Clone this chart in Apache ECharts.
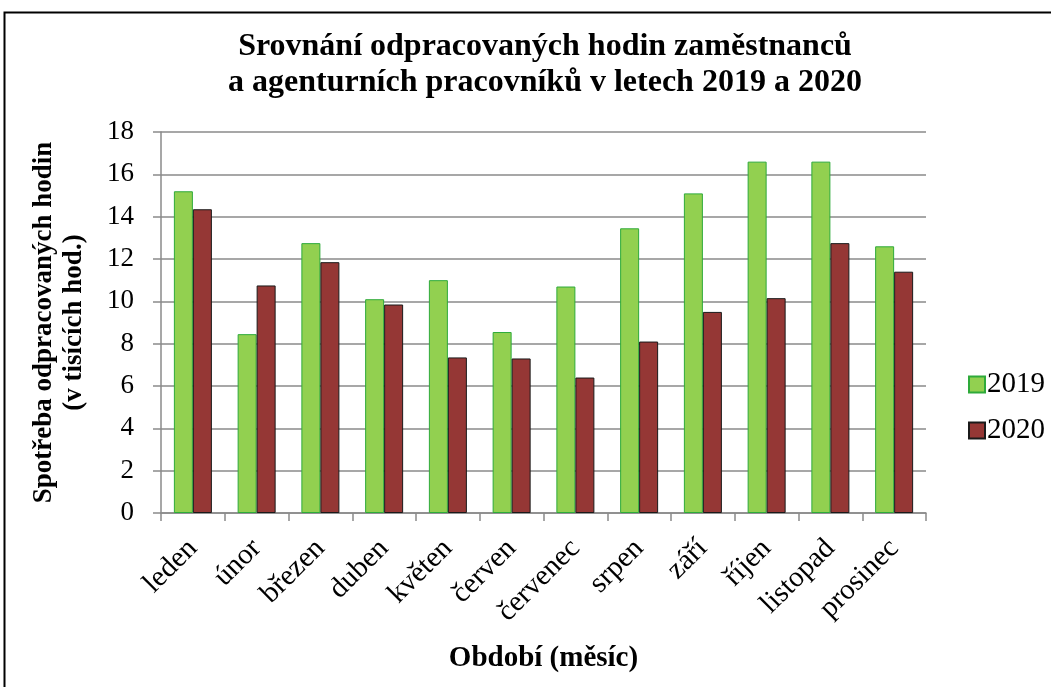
<!DOCTYPE html>
<html>
<head>
<meta charset="utf-8">
<script src="https://cdn.jsdelivr.net/npm/echarts@6/dist/echarts.min.js"></script>
<style>
  html, body { margin: 0; padding: 0; background: #fff; }
  #chart { width: 1051px; height: 687px; }
</style>
</head>
<body>
<div id="chart"></div>
<script>
// data (thousands of hours)
const months = ['leden', 'únor', 'březen', 'duben', 'květen', 'červen', 'červenec', 'srpen', 'září', 'říjen', 'listopad', 'prosinec'];
const hours2019 = [15.2, 8.45, 12.75, 10.1, 11.0, 8.55, 10.7, 13.45, 15.1, 16.6, 16.6, 12.6];
const hours2020 = [14.35, 10.75, 11.85, 9.85, 7.35, 7.3, 6.4, 8.1, 9.5, 10.15, 12.75, 11.4];
const yTicks = { min: 0, max: 18, interval: 2 };

const serif = '"Liberation Serif", "DejaVu Serif", serif';
const chart = echarts.init(document.getElementById('chart'));

chart.setOption({
  animation: false,
  backgroundColor: '#fff',
  textStyle: { fontFamily: serif, color: '#000' },
  title: {
    text: 'Srovnání odpracovaných hodin zaměstnanců\na agenturních pracovníků v letech 2019 a 2020',
    left: 540, top: 24, textAlign: 'center',
    textStyle: { fontFamily: serif, fontSize: 32, fontWeight: 'bold', lineHeight: 36, color: '#000' },
  },
  graphic: [{
    type: 'rect',
    shape: { x: 4.5, y: 12.5, width: 1060, height: 700 },
    style: { fill: null, stroke: '#000', lineWidth: 2 },
  }],
  legend: {
    orient: 'vertical', left: 963, top: 365, itemGap: 17,
    icon: 'rect', itemWidth: 16, itemHeight: 16,
    textStyle: { fontFamily: serif, fontSize: 29, color: '#000', padding: [0, 0, 0, -3] },
    data: ['2019', '2020'],
  },
  grid: { left: 161, right: 125, top: 132, bottom: 174, containLabel: false, outerBoundsMode: 'none' },
  xAxis: {
    type: 'category', data: months,
    name: 'Období (měsíc)', nameLocation: 'middle', nameGap: 131,
    nameTextStyle: { fontFamily: serif, fontSize: 29, fontWeight: 'bold', color: '#000' },
    axisLine: { lineStyle: { color: '#8a8a8a', width: 1.5 } },
    axisTick: { show: true, length: 8, alignWithLabel: false, lineStyle: { color: '#8a8a8a', width: 1.5 } },
    axisLabel: { rotate: 45, fontFamily: serif, fontSize: 29, color: '#000', margin: 31, interval: 0 },
  },
  yAxis: {
    type: 'value', min: yTicks.min, max: yTicks.max, interval: yTicks.interval,
    name: 'Spotřeba odpracovaných hodin\n(v tisících hod.)', nameLocation: 'middle', nameGap: 72,
    nameTextStyle: { fontFamily: serif, fontSize: 27, fontWeight: 'bold', color: '#000', lineHeight: 30 },
    axisLine: { show: true, lineStyle: { color: '#8a8a8a', width: 1.5 } },
    axisTick: { show: true, length: 8, lineStyle: { color: '#8a8a8a', width: 1.5 } },
    axisLabel: { fontFamily: serif, fontSize: 27, color: '#000', margin: 27 },
    splitLine: { lineStyle: { color: '#8a8a8a', width: 1.5 } },
  },
  series: [
    {
      name: '2019', type: 'bar', data: hours2019, barWidth: 19, barGap: '0%',
      itemStyle: { color: '#92d050', borderColor: '#2eaa3a', borderWidth: 1 },
    },
    {
      name: '2020', type: 'bar', data: hours2020, barWidth: 19,
      itemStyle: { color: '#953735', borderColor: '#1a1a1a', borderWidth: 1 },
    },
  ],
});
</script>
</body>
</html>
